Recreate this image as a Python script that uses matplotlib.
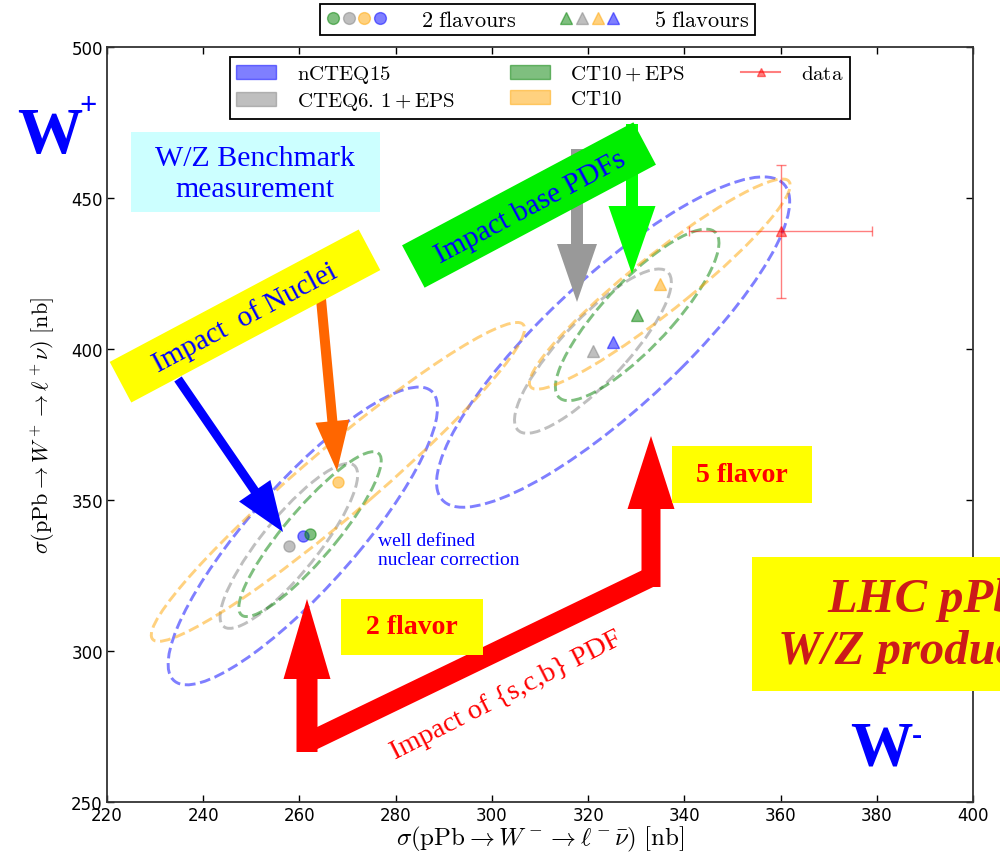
import numpy as np
import matplotlib
matplotlib.use("Agg")
import matplotlib.pyplot as plt
from matplotlib.patches import Ellipse, Polygon, Rectangle, FancyArrow, Patch
from matplotlib.lines import Line2D
from matplotlib.legend_handler import HandlerTuple

plt.rcParams["mathtext.fontset"] = "cm"
SERIF = ["Liberation Serif", "DejaVu Serif"]

PDF_LABELS = [r"$\mathrm{nCTEQ15}$", r"$\mathrm{CTEQ6.\,1+EPS}$",
              r"$\mathrm{CT10+EPS}$", r"$\mathrm{CT10}$"]
PDF_COLORS = ["b", "gray", "g", "orange"]

# central predictions, sigma(W-) and sigma(W+) in nb
W2_MINUS = [260.7, 257.8, 262.2, 268.0]
W2_PLUS = [338.1, 334.8, 338.7, 356.0]
W5_MINUS = [325.2, 321.0, 330.2, 334.9]
W5_PLUS = [402.3, 399.3, 411.3, 421.5]

# uncertainties and W-/W+ correlation of each prediction
SIG2_MINUS = [28.0, 14.3, 14.8, 38.8]
SIG2_PLUS = [49.3, 27.3, 27.3, 52.8]
RHO2 = [0.86, 0.86, 0.89, 0.96]
SIG5_MINUS = [36.7, 16.3, 17.0, 27.1]
SIG5_PLUS = [54.7, 27.2, 28.4, 34.8]
RHO5 = [0.85, 0.84, 0.84, 0.94]

# measurement
DATA_MINUS, DATA_PLUS = 360.0, 439.0
DATA_ERR_MINUS, DATA_ERR_PLUS = 19.0, 22.0


def cov_ellipse(cx, cy, sx, sy, rho, color):
    cov = np.array([[sx * sx, rho * sx * sy], [rho * sx * sy, sy * sy]])
    vals, vecs = np.linalg.eigh(cov)
    angle = np.degrees(np.arctan2(vecs[1, 1], vecs[0, 1]))
    return Ellipse((cx, cy), 2 * np.sqrt(vals[1]), 2 * np.sqrt(vals[0]),
                   angle=angle, fill=False, ls="--", lw=2.1,
                   edgecolor=color, alpha=0.5)


fig = plt.figure(figsize=(10, 8.53), dpi=100)
ax = fig.add_axes([0.107, 0.0586, 0.866, 0.8851])

for i, c in enumerate(PDF_COLORS):
    ax.add_patch(cov_ellipse(W2_MINUS[i], W2_PLUS[i], SIG2_MINUS[i],
                             SIG2_PLUS[i], RHO2[i], c))
    ax.add_patch(cov_ellipse(W5_MINUS[i], W5_PLUS[i], SIG5_MINUS[i],
                             SIG5_PLUS[i], RHO5[i], c))
    ax.plot(W2_MINUS[i], W2_PLUS[i], "o", ms=8, color=c, alpha=0.5)
    ax.plot(W5_MINUS[i], W5_PLUS[i], "^", ms=8, color=c, alpha=0.5)

ax.errorbar(DATA_MINUS, DATA_PLUS, xerr=DATA_ERR_MINUS, yerr=DATA_ERR_PLUS,
            fmt="^", color="r", ms=7, capsize=3.5, lw=1, alpha=0.5)

ax.set_xlim(220, 400)
ax.set_ylim(250, 500)
ax.set_xticks(np.arange(220, 401, 20))
ax.set_yticks(np.arange(250, 501, 50))
ax.tick_params(direction="in", length=5, width=1, top=True, right=True,
               labelsize=12, pad=3)
for s in ax.spines.values():
    s.set_color("#333333")
    s.set_linewidth(1.3)
ax.set_xlabel(r"$\sigma(\mathrm{pPb}\rightarrow W^-\rightarrow \ell^-\bar{\nu})\ [\mathrm{nb}]$",
              fontsize=18, labelpad=0)
ax.set_ylabel(r"$\sigma(\mathrm{pPb}\rightarrow W^+\rightarrow \ell^+\nu)\ [\mathrm{nb}]$",
              fontsize=16, labelpad=10)

handles = [Patch(facecolor=c, edgecolor=c, alpha=0.5) for c in PDF_COLORS]
handles.append(Line2D([], [], color="r", marker="^", alpha=0.5))
leg = ax.legend(handles, PDF_LABELS + [r"$\mathrm{data}$"], ncol=3,
                loc="upper center", bbox_to_anchor=(0.5, 0.987),
                borderaxespad=0, fontsize=15, handlelength=1.9,
                handletextpad=1.0, columnspacing=2.65, labelspacing=0.25,
                borderpad=0.3, fancybox=False, framealpha=1)
leg.get_frame().set_edgecolor("black")
leg.get_frame().set_linewidth(1.3)

dots = tuple(Line2D([], [], ls="", marker="o", ms=8.5, color=c, alpha=0.5)
             for c in ["g", "gray", "orange", "b"])
tris = tuple(Line2D([], [], ls="", marker="^", ms=8.5, color=c, alpha=0.5)
             for c in ["g", "gray", "orange", "b"])
top = fig.legend([dots, tris], [r"$\mathrm{2\ flavours}$", r"$\mathrm{5\ flavours}$"],
                 handler_map={tuple: HandlerTuple(ndivide=None, pad=0)},
                 ncol=2, loc="upper center", bbox_to_anchor=(0.5375, 0.994),
                 borderaxespad=0, fontsize=16, handlelength=2.8,
                 handletextpad=1.5, columnspacing=1.9, fancybox=False,
                 framealpha=1, borderpad=0.25)
top.get_frame().set_edgecolor("black")
top.get_frame().set_linewidth(1.3)

# slide annotations, positioned in figure pixels (y down)
ov = fig.add_axes([0, 0, 1, 1], zorder=5)
ov.set_xlim(0, 1000)
ov.set_ylim(853, 0)
ov.axis("off")
ov.patch.set_alpha(0)


def rot_box(cx, cy, length, height, angle, color):
    a = np.radians(angle)
    u = np.array([np.cos(a), -np.sin(a)]) * length / 2
    v = np.array([np.sin(a), np.cos(a)]) * height / 2
    c = np.array([cx, cy])
    pts = [c - u - v, c + u - v, c + u + v, c - u + v]
    ov.add_patch(Polygon(pts, closed=True, facecolor=color, edgecolor="none"))


def arrow(x0, y0, x1, y1, width, hw, hl, color):
    ov.add_patch(FancyArrow(x0, y0, x1 - x0, y1 - y0, width=width,
                            head_width=hw, head_length=hl,
                            length_includes_head=True, color=color, lw=0))


# W+ / W- labels
ov.text(17, 153, "W", color="blue", fontsize=47, fontweight="bold",
        family=SERIF, ha="left", va="baseline")
ov.text(88, 106, "+", color="blue", fontsize=22, fontweight="bold",
        family=SERIF, ha="center", va="center")
ov.text(850, 765, "W", color="blue", fontsize=45, fontweight="bold",
        family=SERIF, ha="left", va="baseline")
ov.text(917, 736, "-", color="blue", fontsize=22, fontweight="bold",
        family=SERIF, ha="center", va="center")

# benchmark box
ov.add_patch(Rectangle((131, 133), 249, 80, facecolor="#ccffff", edgecolor="none"))
ov.text(255, 174, "W/Z Benchmark\nmeasurement", color="blue", fontsize=21.5,
        family=SERIF, ha="center", va="center", linespacing=1.25)

# nuclear corrections
arrow(178, 380, 283, 533, 9, 38, 50, "blue")
arrow(321, 300, 337, 472, 10, 34, 50, "#ff6600")
rot_box(245, 317, 282, 46, 28, "yellow")
ov.text(245, 318, "Impact  of Nuclei", color="blue", fontsize=21, family=SERIF,
        rotation=28, rotation_mode="anchor", ha="center", va="center")

# base PDF changes
arrow(577, 150, 577, 303, 12, 40, 58, "#999999")
arrow(632, 125, 632, 275, 12, 47, 68, "#00ff00")
rot_box(529, 206, 262, 48, 28, "#00ee00")
ov.text(530, 208, "Impact base PDFs", color="blue", fontsize=21, family=SERIF,
        rotation=28, rotation_mode="anchor", ha="center", va="center")

ov.text(378, 551, "well defined\nnuclear correction", color="blue", fontsize=14,
        family=SERIF, ha="left", va="center", linespacing=1.15)

# flavour scheme path
arrow(307, 753, 307, 600, 21, 47, 80, "red")
arrow(651, 588, 651, 437, 19, 47, 73, "red")
ov.add_patch(Polygon([(302.7, 735), (646.7, 569), (655.3, 587), (311.3, 753)],
                     closed=True, facecolor="red", edgecolor="none"))
ov.text(506, 696, "Impact of {s,c,b} PDF", color="red", fontsize=20.5,
        family=SERIF, rotation=27, rotation_mode="anchor",
        ha="center", va="center")

ov.add_patch(Rectangle((341, 600), 142, 56, facecolor="yellow", edgecolor="none"))
ov.text(412, 628, "2 flavor", color="red", fontsize=20, fontweight="bold",
        family=SERIF, ha="center", va="center")
ov.add_patch(Rectangle((672, 447), 140, 57, facecolor="yellow", edgecolor="none"))
ov.text(742, 475, "5 flavor", color="red", fontsize=20, fontweight="bold",
        family=SERIF, ha="center", va="center")

ov.add_patch(Rectangle((752, 558), 300, 134, facecolor="yellow", edgecolor="none"))
ov.text(827, 612, "LHC pPb", color="#cc1a1a", fontsize=35, fontweight="bold",
        fontstyle="italic", family=SERIF, ha="left", va="baseline")
ov.text(778, 664, "W/Z production", color="#cc1a1a", fontsize=35,
        fontweight="bold", fontstyle="italic", family=SERIF,
        ha="left", va="baseline")

fig.savefig("out.png", dpi=100)
